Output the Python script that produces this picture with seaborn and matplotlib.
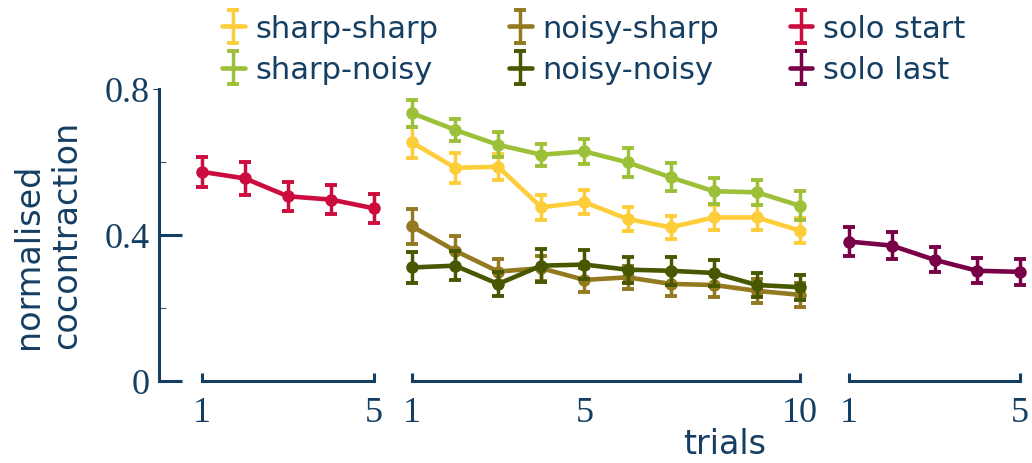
import numpy as np
import pandas as pd
import matplotlib
matplotlib.use("Agg")
import matplotlib.pyplot as plt
import matplotlib.lines as mlines
import seaborn as sns
from matplotlib.container import ErrorbarContainer
from matplotlib.legend_handler import HandlerErrorbar

sns.set_theme(style="white")
plt.rcParams['font.family'] = ['DejaVu Sans']

NAVY = "#153e63"

# ---- data ----
solo_trials = [1, 2, 3, 4, 5]
game_trials = [1, 2, 3, 4, 5, 6, 7, 8, 9, 10]

solo_start = [0.573, 0.555, 0.506, 0.497, 0.473]
solo_start_err = [0.041, 0.046, 0.040, 0.039, 0.039]

sharp_sharp = [0.654, 0.584, 0.587, 0.476, 0.490, 0.444, 0.421, 0.448, 0.448, 0.412]
sharp_sharp_err = [0.042, 0.041, 0.036, 0.034, 0.033, 0.033, 0.032, 0.035, 0.035, 0.034]

sharp_noisy = [0.734, 0.688, 0.647, 0.620, 0.629, 0.599, 0.558, 0.520, 0.517, 0.480]
sharp_noisy_err = [0.037, 0.030, 0.034, 0.030, 0.034, 0.039, 0.038, 0.036, 0.034, 0.040]

noisy_sharp = [0.424, 0.357, 0.300, 0.309, 0.277, 0.284, 0.266, 0.263, 0.247, 0.236]
noisy_sharp_err = [0.048, 0.041, 0.035, 0.034, 0.033, 0.031, 0.033, 0.032, 0.033, 0.032]

noisy_noisy = [0.311, 0.316, 0.266, 0.316, 0.319, 0.305, 0.302, 0.296, 0.263, 0.257]
noisy_noisy_err = [0.042, 0.040, 0.032, 0.046, 0.040, 0.036, 0.038, 0.036, 0.034, 0.034]

solo_last = [0.382, 0.371, 0.332, 0.302, 0.299]
solo_last_err = [0.039, 0.037, 0.034, 0.034, 0.035]

labels = ["sharp-sharp", "sharp-noisy", "noisy-sharp", "noisy-noisy", "solo start", "solo last"]
colors = {"sharp-sharp": "#fecd3a", "sharp-noisy": "#9dc039", "noisy-sharp": "#937a20",
          "noisy-noisy": "#485800", "solo start": "#cc0c3e", "solo last": "#780046"}

W, H = 1032, 464
fig = plt.figure(figsize=(W / 100, H / 100), dpi=100)

def px_axes(x0, x1):
    return fig.add_axes([x0 / W, 82 / H, (x1 - x0) / W, 292 / H])

ax_l = px_axes(159, 395.5)
ax_m = px_axes(390.4, 821.5)
ax_r = px_axes(831.9, 1030.7)
ax_l.set_xlim(0, 5.5)
ax_m.set_xlim(0.5, 10.5)
ax_r.set_xlim(0.6, 5.25)

LW = 3.3
EW = 2.5
CAP = 4.3
CT = 2.8

def draw(ax, x, y, e, name):
    c = colors[name]
    df = pd.DataFrame({"trial": x, "value": y})
    ax.errorbar(x, y, yerr=e, fmt="none", ecolor=c, elinewidth=EW,
                capsize=CAP, capthick=CT, clip_on=False, zorder=3)
    sns.lineplot(data=df, x="trial", y="value", ax=ax, color=c, linewidth=LW,
                 marker="o", markersize=9, markeredgewidth=0, legend=False,
                 clip_on=False, zorder=3)

draw(ax_l, solo_trials, solo_start, solo_start_err, "solo start")
draw(ax_m, game_trials, sharp_sharp, sharp_sharp_err, "sharp-sharp")
draw(ax_m, game_trials, sharp_noisy, sharp_noisy_err, "sharp-noisy")
draw(ax_m, game_trials, noisy_sharp, noisy_sharp_err, "noisy-sharp")
draw(ax_m, game_trials, noisy_noisy, noisy_noisy_err, "noisy-noisy")
draw(ax_r, solo_trials, solo_last, solo_last_err, "solo last")

SERIF = "Liberation Serif"
for ax in (ax_l, ax_m, ax_r):
    ax.set_ylim(0, 0.8)
    ax.set_xlabel("")
    ax.set_ylabel("")
    ax.set_facecolor("none")
    for s in ("top", "right"):
        ax.spines[s].set_visible(False)
    ax.spines["bottom"].set_color(NAVY)
    ax.spines["bottom"].set_linewidth(2.2)

ax_l.set_xticks([1, 5], ["1", "5"])
ax_r.set_xticks([1, 5], ["1", "5"])
ax_m.set_xticks([1, 10], ["1", "10"])
ax_m.set_xticks([5], ["5"], minor=True)

for ax in (ax_l, ax_m, ax_r):
    ax.tick_params(axis="x", which="major", bottom=True, direction="in", length=6,
                   width=2.2, color=NAVY, pad=11, labelsize=26, labelcolor=NAVY,
                   labelfontfamily=SERIF)
    ax.tick_params(axis="x", which="minor", bottom=True, length=0, pad=11,
                   labelsize=26, labelcolor=NAVY, labelfontfamily=SERIF)

for ax in (ax_m, ax_r):
    ax.spines["left"].set_visible(False)
    ax.set_yticks([])

ax_l.spines["bottom"].set_bounds(1, 5)
ax_m.spines["bottom"].set_bounds(1, 10)
ax_r.spines["bottom"].set_bounds(1, 5)

# y axis
ax_l.spines["left"].set_bounds(0, 0.8)
ax_l.spines["left"].set_color(NAVY)
ax_l.spines["left"].set_linewidth(2.2)
ax_l.set_yticks([0, 0.4, 0.8], ["0", "0.4", "0.8"])
ax_l.set_yticks([0.2, 0.6], minor=True)
ax_l.tick_params(axis="y", which="major", left=True, direction="in", length=16.5,
                 width=2.2, color=NAVY, pad=7, labelsize=26, labelcolor=NAVY,
                 labelfontfamily=SERIF)
ax_l.tick_params(axis="y", which="minor", left=True, direction="in", length=5,
                 width=0.8, color="#555555")
top_tick = ax_l.yaxis.get_major_ticks()[2]
top_tick.tick1line.set_marker(mlines.TICKLEFT)
top_tick.tick1line.set_markersize(4)
top_tick.tick1line.set_markeredgewidth(0.8)
top_tick.tick1line.set_color("#555555")

fig.text(48 / W, (H - 349) / H, "normalised\ncocontraction", rotation=90,
         ha="center", va="bottom", multialignment="left", fontsize=24,
         color=NAVY, linespacing=1.2)
fig.text(725 / W, (H - 445) / H, "trials", ha="center", va="center",
         fontsize=24, color=NAVY)

# legend
handles = []
for name in labels:
    c = colors[name]
    h = ax_m.errorbar([np.nan], [np.nan], yerr=[np.nan], color=c, linewidth=LW,
                      elinewidth=EW, capsize=CAP, capthick=CT)
    handles.append(h)
fig.legend(handles, labels, ncol=3, loc="upper left",
           bbox_to_anchor=(222 / W, (H - 15) / H), frameon=False,
           fontsize=22, labelcolor=NAVY, handlelength=0.75, handletextpad=0.35,
           columnspacing=2.3, labelspacing=0.4, borderpad=0, borderaxespad=0,
           handler_map={ErrorbarContainer: HandlerErrorbar(yerr_size=0.55)})

fig.savefig("out.png", dpi=100)
